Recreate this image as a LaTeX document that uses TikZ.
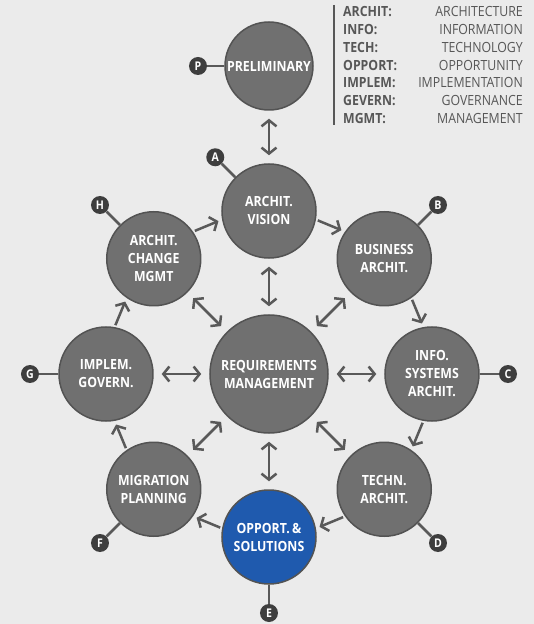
\documentclass[tikz,border=0pt]{standalone}
\usepackage{fontspec}
\setmainfont{Open Sans}[FakeStretch=0.88]
\usetikzlibrary{arrows.meta,calc}

\definecolor{bggray}{HTML}{EBEBEB}
\definecolor{phasegray}{HTML}{707070}
\definecolor{phaseedge}{HTML}{535353}
\definecolor{phaseblue}{HTML}{1F5AAE}
\definecolor{linegray}{HTML}{595959}
\definecolor{markgray}{HTML}{3E3E3E}
\definecolor{textgray}{HTML}{575757}

\begin{document}
\begin{tikzpicture}[x=1pt,y=1pt,
	phase/.style={circle, draw=phaseedge, line width=1.5pt, fill=phasegray,
		minimum size=94pt, inner sep=0pt, text=white, align=center,
		font=\bfseries\fontsize{14}{18}\selectfont},
	marker/.style={circle, fill=markgray, minimum size=18pt, inner sep=0pt,
		text=white, font=\bfseries\fontsize{12}{12}\selectfont},
	stub/.style={draw=linegray, line width=2.5pt},
	cycarrow/.style={draw=linegray, line width=2.5pt,
		-{Straight Barb[length=6pt,width=15pt]}},
	spoke/.style={draw=linegray, line width=2.5pt,
		{Straight Barb[length=6pt,width=15pt]}-{Straight Barb[length=6pt,width=15pt]},
		shorten <=8pt, shorten >=8pt},
	legkey/.style={inner sep=0pt, text=textgray, font=\bfseries\fontsize{14}{14}\selectfont},
	legval/.style={inner sep=0pt, text=textgray, font=\fontsize{14}{14}\selectfont}]

	% ---- parameters

	\def\ring{163}

	% ---- background

	\fill[bggray] (-269,-250) rectangle (265,374);
	\useasboundingbox (-269,-250) rectangle (265,374);

	% ---- phases

	\node[phase, minimum size=118pt] (req) at (0,0) {REQUIREMENTS\\MANAGEMENT};
	\node[phase, minimum size=88pt] (prelim) at (0,308) {PRELIMINARY};

	\foreach \name/\ang/\txt in {vision/90/{ARCHIT.\\VISION},
		business/45/{BUSINESS\\ARCHIT.},
		info/0/{INFO.\\SYSTEMS\\ARCHIT.},
		techn/-45/{TECHN.\\ARCHIT.},
		migration/-135/{MIGRATION\\PLANNING},
		implem/180/{IMPLEM.\\GOVERN.},
		change/135/{ARCHIT.\\CHANGE\\MGMT}} {
		\node[phase] (\name) at (\ang:\ring) {\txt};
	}
	\node[phase, fill=phaseblue] (opport) at (-90:\ring) {OPPORT.\,\&\\SOLUTIONS};

	% ---- letter markers

	\foreach \src/\ang/\dist/\lab in {vision/135/76/A, business/45/76/B,
		info/0/76/C, techn/-45/76/D, opport/-90/76/E, migration/-135/76/F,
		implem/180/76/G, change/135/76/H, prelim/180/71/P} {
		\node[marker] (m\lab) at ($(\src)+(\ang:\dist)$) {\lab};
		\draw[stub] (m\lab) -- (\src);
	}

	% ---- cycle

	\foreach \a/\b in {change/vision, vision/business, business/info,
		info/techn, techn/opport, opport/migration, migration/implem,
		implem/change} {
		\draw[cycarrow] ($(\a)!0.39!(\b)!10pt!90:(\b)$) -- ($(\a)!0.595!(\b)!10pt!90:(\b)$);
	}

	% ---- spokes

	\foreach \n in {vision,business,info,techn,opport,migration,implem,change} {
		\draw[spoke] (req) -- (\n);
	}
	\draw[spoke] (vision) -- (prelim);

	% ---- legend

	\draw[draw=textgray, line width=1.5pt] (65,369) -- (65,249);
	\foreach \abbr/\full [count=\i from 0] in {ARCHIT:/ARCHITECTURE,
		INFO:/INFORMATION, TECH:/TECHNOLOGY, OPPORT:/OPPORTUNITY,
		IMPLEM:/IMPLEMENTATION, GEVERN:/GOVERNANCE, MGMT:/MANAGEMENT} {
		\node[legkey, anchor=base west] (key\i) at (74,{357-17.67*\i}) {\abbr};
		\node[legval, anchor=base east] (val\i) at (254,{357-17.67*\i}) {\full};
	}

\end{tikzpicture}
\end{document}
